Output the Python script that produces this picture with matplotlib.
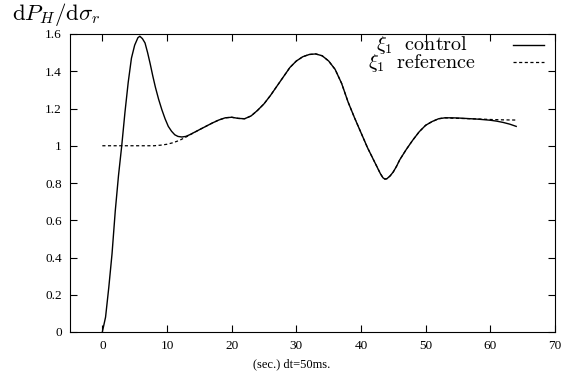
import matplotlib
matplotlib.use("Agg")
import matplotlib.pyplot as plt
from matplotlib.lines import Line2D

plt.rcParams['mathtext.fontset'] = 'cm'

# time (sec) and control signal
t_control = [0, 0.5, 1, 1.5, 2, 2.5, 3, 3.5, 4, 4.5, 5, 5.5, 5.8, 6.2, 6.6, 7, 7.4,
             7.8, 8.2, 8.7, 9.2, 9.7, 10.2, 10.7, 11.2, 11.7, 12.3, 12.9, 13.5, 14,
             15, 16, 17, 18, 19, 20, 21, 22, 23, 24, 25, 26, 27, 28, 29, 30, 31, 32,
             33, 34, 35, 36, 37, 38, 39, 40, 41, 42, 42.5, 43, 43.4, 43.7, 44, 44.5,
             45, 45.5, 46, 47, 48, 49, 50, 51, 52, 53, 54, 55, 56, 57, 58, 59, 60,
             61, 62, 63, 64]
y_control = [0.0, 0.08, 0.24, 0.42, 0.65, 0.84, 1.0, 1.18, 1.34, 1.47, 1.54, 1.58,
             1.588, 1.575, 1.552, 1.50, 1.44, 1.375, 1.315, 1.25, 1.194, 1.145,
             1.104, 1.078, 1.059, 1.05, 1.047, 1.05, 1.059, 1.068, 1.086, 1.104,
             1.122, 1.138, 1.150, 1.153, 1.147, 1.145, 1.16, 1.19, 1.225, 1.27,
             1.32, 1.37, 1.42, 1.455, 1.478, 1.49, 1.493, 1.483, 1.455, 1.41, 1.335,
             1.235, 1.15, 1.07, 0.99, 0.92, 0.885, 0.85, 0.828, 0.821, 0.823, 0.838,
             0.86, 0.89, 0.925, 0.98, 1.03, 1.075, 1.11, 1.13, 1.145, 1.15, 1.15,
             1.149, 1.147, 1.145, 1.143, 1.14, 1.137, 1.132, 1.125, 1.116, 1.104]

# reference signal
t_reference = [0, 1, 2, 3, 4, 5, 6, 7, 8, 9, 10, 11, 12, 13, 14, 15, 16, 17, 18, 19,
               20, 21, 22, 23, 24, 25, 26, 27, 28, 29, 30, 31, 32, 33, 34, 35, 36,
               37, 38, 39, 40, 41, 42, 42.5, 43, 43.4, 43.7, 44, 44.5, 45, 45.5, 46,
               47, 48, 49, 50, 51, 52, 53, 54, 56, 58, 60, 62, 64]
y_reference = [1.0, 1.0, 1.0, 1.0, 1.0, 1.0, 1.0, 1.0, 1.0, 1.003, 1.008, 1.017, 1.03,
               1.048, 1.067, 1.086, 1.104, 1.122, 1.138, 1.150, 1.153, 1.147, 1.145,
               1.16, 1.19, 1.225, 1.27, 1.32, 1.37, 1.42, 1.455, 1.478, 1.49, 1.493,
               1.483, 1.455, 1.41, 1.335, 1.235, 1.15, 1.07, 0.99, 0.92, 0.885, 0.85,
               0.828, 0.821, 0.823, 0.838, 0.86, 0.89, 0.925, 0.98, 1.03, 1.075,
               1.11, 1.13, 1.145, 1.15, 1.148, 1.146, 1.144, 1.141, 1.139, 1.138]

x_ticks = [0, 10, 20, 30, 40, 50, 60, 70]
y_ticks = [0, 0.2, 0.4, 0.6, 0.8, 1.0, 1.2, 1.4, 1.6]
y_tick_labels = ["0", "0.2", "0.4", "0.6", "0.8", "1", "1.2", "1.4", "1.6"]
labels = [r'$\xi_1\ \ \mathrm{control}$', r'$\xi_1\ \ \mathrm{reference}$']

W, H = 562, 374
fig = plt.figure(figsize=(W / 100, H / 100), dpi=100)
ax = fig.add_axes([70 / W, 1 - 332 / H, 485 / W, 298 / H])

ax.plot(t_control, y_control, color='black', lw=1.0, solid_joinstyle='round')
ax.plot(t_reference, y_reference, color='black', lw=0.9, ls=(0, (2.5, 2)))

ax.set_xlim(-5, 70)
ax.set_ylim(0, 1.6)
ax.set_xticks(x_ticks)
ax.set_yticks(y_ticks)
ax.set_yticklabels(y_tick_labels)
ax.tick_params(direction='in', length=5, width=0.8, top=True, right=True,
               labelsize=9.5, pad=6)
for lbl in ax.get_xticklabels() + ax.get_yticklabels():
    lbl.set_family('Liberation Serif')
for s in ax.spines.values():
    s.set_linewidth(0.8)

# legend (gnuplot style: centered text block, samples to the right)
fig.text(422 / W, 1 - 54 / H, '\n'.join(labels), fontsize=14.5, ha='center',
         va='center', multialignment='center', linespacing=0.8)
row_y = [45, 62]
styles = [dict(ls='-', lw=1.0), dict(ls=(0, (2.5, 2)), lw=0.9)]
for ry, st in zip(row_y, styles):
    fig.add_artist(Line2D([513 / W, 544 / W], [1 - ry / H, 1 - ry / H],
                          color='black', transform=fig.transFigure, **st))

fig.text(292 / W, 1 - 364 / H, '(sec.) dt=50ms.', family='Liberation Serif',
         fontsize=9, ha='center', va='center')

fig.text(12 / W, 1 - 14 / H, r'$\mathrm{d}P_H/\mathrm{d}\sigma_r$', fontsize=16.5,
         va='center', ha='left')

fig.savefig('out.png', dpi=100)
